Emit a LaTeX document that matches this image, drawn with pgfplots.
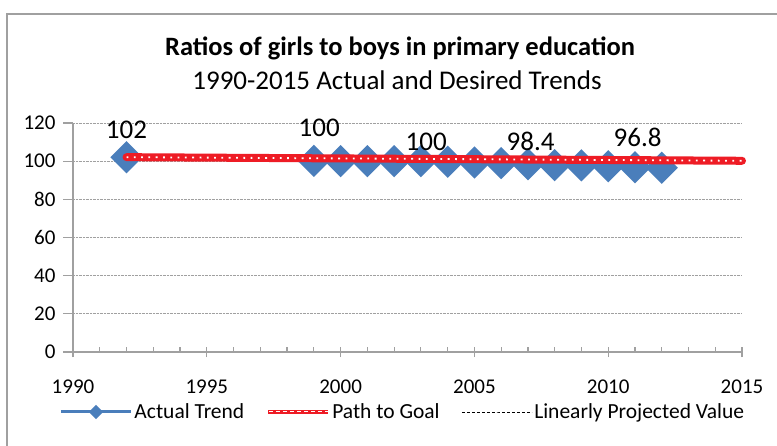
\documentclass[border=0pt]{standalone}
\usepackage{pgfplots}
\pgfplotsset{compat=1.18}
\usepackage{fontspec}
\setmainfont{Carlito}
\definecolor{ablue}{HTML}{4A7EBB}
\definecolor{ared}{HTML}{EE1C25}
\definecolor{agray}{HTML}{A0A0A0}
\begin{document}
\begin{tikzpicture}
\useasboundingbox (0pt,0pt) rectangle (777pt,445pt);
\fill[white] (0pt,0pt) rectangle (777pt,445pt);
\draw[agray, line width=2pt] (7pt,-20pt) -- (7pt,431pt) -- (800pt,431pt);
\node[font=\bfseries\fontsize{26.5}{30}\selectfont] at (400pt,397pt) {Ratios of girls to boys in primary education};
\node[font=\fontsize{27}{30}\selectfont] at (397pt,365pt) {1990-2015 Actual and Desired Trends};
\begin{axis}[
  at={(73pt,93pt)}, anchor=south west,
  scale only axis, width=669pt, height=229pt,
  xmin=1990, xmax=2015, ymin=0, ymax=120,
  axis x line=bottom, axis y line=left,
  axis line style={draw=agray, line width=1.2pt, -},
  xtick={1990,1995,...,2015}, minor x tick num=4,
  ytick={0,20,...,120},
  tick align=outside,
  major tick length=10pt, minor tick length=5pt,
  tick style={agray, line width=1.2pt},
  major x tick style={yshift=5pt},
  minor x tick style={yshift=5pt},
  ymajorgrids, grid style={densely dotted, agray, line width=1pt},
  /pgf/number format/assume math mode=true,
  /pgf/number format/1000 sep={},
  tick label style={font=\fontsize{21}{24}\selectfont},
  xticklabel style={yshift=-14pt},
  yticklabel style={xshift=-4pt},
  clip=false, clip marker paths=true,
  legend style={at={(0.493,-0.262)}, anchor=center, draw=none, fill=none,
    font=\fontsize{21.5}{24}\selectfont, legend columns=3,
    /tikz/every even column/.append style={column sep=20pt}},
  legend cell align=left,
  legend image code/.code={\draw[#1] plot coordinates {(0pt,0pt)(35pt,0pt)(70pt,0pt)};},
]
\addplot[ablue, line width=3pt, mark=square*, mark size=9.9pt,
  mark options={fill=ablue, draw=none, rotate=45},
  legend image post style={mark size=3.6pt, mark repeat=2, mark phase=2}]
  coordinates {
  (1992,102) (1999,100.2) (2000,100) (2001,100) (2002,100) (2003,100)
  (2004,99.7) (2005,99.3) (2006,99) (2007,98.4) (2008,97.9) (2009,97.8)
  (2010,97.3) (2011,96.8) (2012,96.6)};
\addlegendentry{Actual Trend}
\addplot[ared, line width=8pt, line cap=round,
  legend image code/.code={
    \draw[ared, line width=4pt, line cap=butt] (0pt,0pt) -- (60pt,0pt);
    \draw[white, line width=1pt, line cap=butt, dash pattern=on 4pt off 3pt] (1pt,0pt) -- (60pt,0pt);}]
  coordinates {(1992,102.1) (2015,100.2)};
\addlegendentry{Path to Goal}
\addplot[white, line width=1.8pt, dash pattern=on 1.8pt off 5.5pt, forget plot]
  coordinates {(1992,102.1) (2015,100.2)};
\addlegendimage{black, line width=0.6pt, dash pattern=on 3pt off 2pt}
\addlegendentry{Linearly Projected Value}
\node[font=\fontsize{27}{30}\selectfont] at (axis cs:1992,116.3) {102};
\node[font=\fontsize{27}{30}\selectfont] at (axis cs:1999.2,117.4) {100};
\node[font=\fontsize{27}{30}\selectfont] at (axis cs:2003.2,110.0) {100};
\node[font=\fontsize{27}{30}\selectfont] at (axis cs:2007.1,110.6) {98.4};
\node[font=\fontsize{27}{30}\selectfont] at (axis cs:2011.1,112.7) {96.8};
\end{axis}
\end{tikzpicture}
\end{document}
